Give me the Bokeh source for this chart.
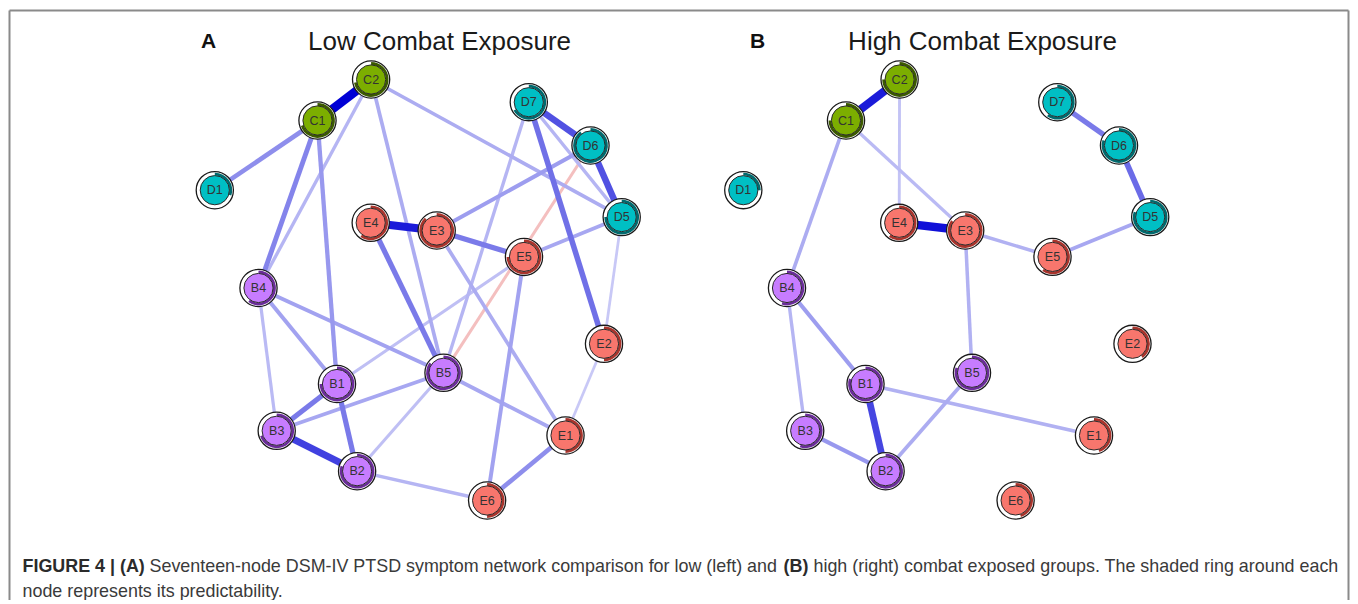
import math
from bokeh.plotting import figure
from bokeh.models import Range1d, ColumnDataSource
from bokeh.core.properties import value
from bokeh.embed import file_html
from bokeh.resources import INLINE

# ---------------- data ----------------
NODES = ["B1", "B2", "B3", "B4", "B5", "C1", "C2", "D1", "D5", "D6", "D7",
         "E1", "E2", "E3", "E4", "E5", "E6"]
GROUPS = ["B", "B", "B", "B", "B", "C", "C", "D", "D", "D", "D",
          "E", "E", "E", "E", "E", "E"]
# network layout (shared by both panels)
LAYOUT_X = [336.5, 356.6, 276.2, 258.0, 443.0, 317.0, 370.6, 214.3, 621.2, 590.0, 528.3,
            565.0, 603.5, 436.2, 370.2, 523.5, 486.6]
LAYOUT_Y = [383.5, 470.7, 430.3, 287.5, 372.3, 120.0, 79.0, 189.7, 216.6, 145.0, 101.7,
            435.0, 343.3, 230.0, 222.3, 256.4, 500.0]

# predictability (fraction of ring shaded)
PRED_LOW = [0.75, 0.8, 0.7, 0.6, 0.85, 0.7, 0.72, 0.3, 0.75, 0.9, 0.67,
            0.5, 0.5, 0.88, 0.6, 0.75, 0.5]
PRED_HIGH = [0.8, 0.7, 0.55, 0.55, 0.8, 0.75, 0.75, 0.25, 0.8, 0.8, 0.6,
             0.45, 0.4, 0.85, 0.6, 0.6, 0.45]

# edges: low combat exposure
LOW_FROM = ["C1", "C1", "C1", "C1", "C2", "C2", "C2", "D7", "D6", "D7", "D7", "D7",
            "D6", "D6", "D5", "D5", "E4", "E3", "E4", "E3", "E5", "E5", "B4", "B4",
            "B4", "B1", "B1", "B3", "B3", "B5", "B5", "B2", "E1", "E1"]
LOW_TO = ["C2", "D1", "B4", "B1", "B4", "B5", "D5", "D6", "D5", "D5", "E2", "B5",
          "E3", "B5", "E5", "E2", "E3", "E5", "B5", "E1", "E6", "B1", "B5", "B1",
          "B3", "B3", "B2", "B2", "B5", "B2", "E1", "E6", "E6", "E2"]
LOW_W = [0.45, 0.18, 0.20, 0.16, 0.10, 0.12, 0.12, 0.30, 0.30, 0.10, 0.24, 0.10,
         0.15, -0.08, 0.13, 0.06, 0.40, 0.22, 0.22, 0.12, 0.14, 0.08, 0.14, 0.14,
         0.09, 0.22, 0.22, 0.33, 0.13, 0.08, 0.13, 0.10, 0.18, 0.06]

# edges: high combat exposure
HIGH_FROM = ["C1", "C1", "C1", "C2", "E4", "E3", "E3", "E5", "D5", "D6", "B4", "B4",
             "B1", "B1", "B3", "B2"]
HIGH_TO = ["C2", "B4", "E3", "E4", "E3", "E5", "B5", "D5", "D6", "D7", "B1", "B3",
           "B2", "E1", "B2", "B5"]
HIGH_W = [0.40, 0.12, 0.09, 0.07, 0.42, 0.11, 0.11, 0.13, 0.25, 0.22, 0.15, 0.10,
          0.32, 0.11, 0.16, 0.12]

TITLES = ["Low Combat Exposure", "High Combat Exposure"]
PANEL_LETTERS = ["A", "B"]
CAPTION = [("FIGURE 4 | (A)", "bold"),
           ("Seventeen-node DSM-IV PTSD symptom network comparison for low (left) and", "normal"),
           ("(B)", "bold"),
           ("high (right) combat exposed groups. The shaded ring around each", "normal"),
           ("node represents its predictability.", "normal")]

# ---------------- styles ----------------
W, H = 1352, 600
FILL = {"B": "#C77CFF", "C": "#7CAE00", "D": "#00BFC4", "E": "#F8766D"}
DARK = {"B": "#6A2C99", "C": "#3C5A00", "D": "#006A6E", "E": "#A8342C"}
POS = (0, 0, 213)
NEG = (213, 0, 0)
WMAX = 0.45
FONT = value("Liberation Sans")


def Y(y):
    return 604 - y


def edge_style(w):
    t = min(1.0, abs(w) / WMAX)
    a = 0.12 + 0.88 * t ** 1.1
    base = POS if w > 0 else NEG
    r, g, b = [int(round(255 * (1 - a) + c * a)) for c in base]
    return "#%02x%02x%02x" % (r, g, b), 1.8 + 7.0 * t


p = figure(width=W, height=H, x_range=Range1d(0, W), y_range=Range1d(604 - H, 604),
           output_backend="svg", toolbar_location=None,
           x_axis_location=None, y_axis_location=None, min_border=0)
p.grid.visible = False
p.outline_line_color = None
p.background_fill_color = "white"
p.border_fill_color = "white"

# frame
p.segment(x0=[9, 9, 1348], y0=[Y(10), Y(10), Y(10)], x1=[9, 1348, 1348],
          y1=[Y(620), Y(10), Y(620)], line_color="#8a8a8a", line_width=2)

idx = {n: i for i, n in enumerate(NODES)}


def draw_panel(off, tx, lx, pred, efrom, eto, ew, title, letter):
    xs = [x + off for x in LAYOUT_X]
    ys = [Y(y) for y in LAYOUT_Y]
    order = sorted(range(len(ew)), key=lambda k: abs(ew[k]))
    d = dict(x0=[], y0=[], x1=[], y1=[], c=[], w=[])
    for k in order:
        a, b = idx[efrom[k]], idx[eto[k]]
        col, wd = edge_style(ew[k])
        d["x0"].append(xs[a]); d["y0"].append(ys[a])
        d["x1"].append(xs[b]); d["y1"].append(ys[b])
        d["c"].append(col); d["w"].append(wd)
    p.segment(x0="x0", y0="y0", x1="x1", y1="y1", line_color="c", line_width="w",
              source=ColumnDataSource(d))
    p.circle(x=xs, y=ys, radius=18.6, fill_color="white", line_color="#1a1a1a",
             line_width=1.3)
    p.annular_wedge(x=xs, y=ys, inner_radius=14.6, outer_radius=17.4,
                    start_angle=[math.pi / 2 - 2 * math.pi * v for v in pred],
                    end_angle=math.pi / 2,
                    fill_color=[DARK[g] for g in GROUPS], line_color=None)
    p.circle(x=xs, y=ys, radius=14.6, fill_color=[FILL[g] for g in GROUPS],
             line_color="#2a2a2a", line_width=1)
    p.text(x=xs, y=ys, text=NODES, text_align="center", text_baseline="middle",
           text_font=FONT, text_font_size="12.5px", text_color="#333333")
    p.text(x=[tx], y=[Y(40)], text=[title], text_align="center",
           text_baseline="middle", text_font=FONT, text_font_size="26px",
           text_color="#1a1a1a")
    p.text(x=[lx], y=[Y(40)], text=[letter], text_align="center",
           text_baseline="middle", text_font=FONT, text_font_size="21px",
           text_font_style="bold", text_color="#111111")


draw_panel(0, 439, 208, PRED_LOW, LOW_FROM, LOW_TO, LOW_W, TITLES[0], PANEL_LETTERS[0])
draw_panel(528.5, 982, 757, PRED_HIGH, HIGH_FROM, HIGH_TO, HIGH_W, TITLES[1], PANEL_LETTERS[1])

# caption (segment x positions / lines)
CAP_X = [22, 149, 783, 813, 22]
CAP_Y = [565, 565, 565, 565, 590]
for (txt, st), x, y in zip(CAPTION, CAP_X, CAP_Y):
    p.text(x=[x], y=[Y(y)], text=[txt], text_align="left", text_baseline="middle",
           text_font=FONT, text_font_size="17.9px", text_font_style=st,
           text_color="#2b2b2b" if st == "bold" else "#3a3a3a")

open("out.html", "w").write(file_html(p, INLINE))
